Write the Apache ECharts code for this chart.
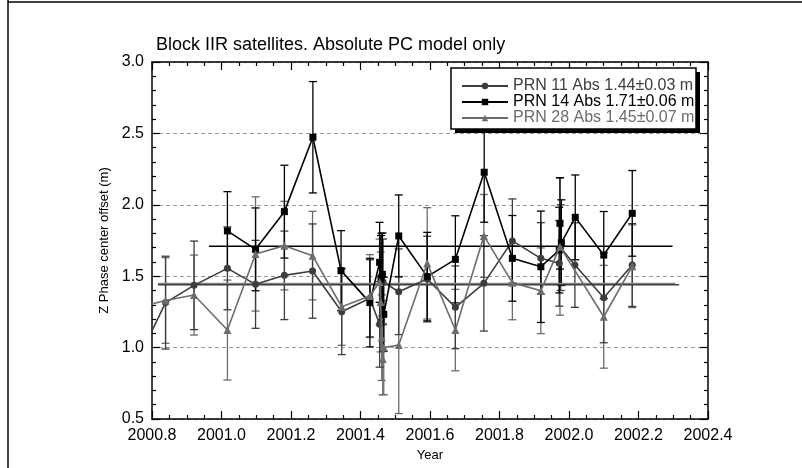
<!DOCTYPE html>
<html>
<head>
<meta charset="utf-8">
<script src="https://cdn.jsdelivr.net/npm/echarts@6/dist/echarts.min.js"></script>
<style>
html,body{margin:0;padding:0;background:#fff;}
#chart{width:802px;height:468px;}
</style>
</head>
<body>
<div id="chart"></div>
<script>
// ---- Data ----
const titleText = 'Block IIR satellites. Absolute PC model only';
const seriesNames = ['PRN 11 Abs 1.44\u00b10.03 m', 'PRN 14 Abs 1.71\u00b10.06 m', 'PRN 28 Abs 1.45\u00b10.07 m'];

const years11 = [2000.757, 2000.839, 2000.921, 2001.017, 2001.098, 2001.181, 2001.262, 2001.346, 2001.427, 2001.455, 2001.460, 2001.465, 2001.510, 2001.592, 2001.673, 2001.755, 2001.837, 2001.919, 2001.972, 2001.976, 2002.017, 2002.100, 2002.182];
const prn11   = [0.90, 1.315, 1.436, 1.555, 1.443, 1.506, 1.536, 1.251, 1.345, 1.163, 1.50, 1.46, 1.391, 1.48, 1.282, 1.45, 1.747, 1.625, 1.59, 1.70, 1.578, 1.349, 1.578];
const err11   = [0.30, 0.325, 0.31, 0.29, 0.308, 0.31, 0.33, 0.30, 0.27, 0.30, 0.30, 0.30, 0.30, 0.30, 0.29, 0.334, 0.294, 0.25, 0.30, 0.30, 0.296, 0.315, 0.29];

const years14 = [2001.017, 2001.098, 2001.181, 2001.263, 2001.344, 2001.427, 2001.455, 2001.459, 2001.463, 2001.467, 2001.510, 2001.592, 2001.673, 2001.756, 2001.837, 2001.919, 2001.972, 2001.974, 2001.978, 2002.018, 2002.100, 2002.182];
const prn14   = [1.817, 1.688, 1.952, 2.473, 1.539, 1.315, 1.597, 1.485, 1.513, 1.233, 1.782, 1.497, 1.618, 2.228, 1.625, 1.566, 1.683, 1.87, 1.735, 1.912, 1.648, 1.94];
const err14   = [0.275, 0.29, 0.325, 0.39, 0.28, 0.31, 0.28, 0.30, 0.29, 0.26, 0.287, 0.31, 0.305, 0.35, 0.30, 0.39, 0.30, 0.32, 0.30, 0.297, 0.305, 0.30];

const years28 = [2000.757, 2000.839, 2000.921, 2001.017, 2001.098, 2001.181, 2001.262, 2001.346, 2001.427, 2001.455, 2001.458, 2001.461, 2001.464, 2001.467, 2001.510, 2001.592, 2001.673, 2001.755, 2001.837, 2001.919, 2001.974, 2002.100, 2002.182];
const prn28   = [1.28, 1.33, 1.368, 1.123, 1.656, 1.714, 1.644, 1.286, 1.361, 1.46, 1.32, 1.07, 0.92, 1.00, 1.018, 1.59, 1.123, 1.782, 1.455, 1.398, 1.707, 1.216, 1.57];
const err28   = [0.30, 0.30, 0.28, 0.35, 0.40, 0.31, 0.31, 0.27, 0.29, 0.30, 0.35, 0.30, 0.25, 0.33, 0.48, 0.39, 0.285, 0.29, 0.26, 0.30, 0.48, 0.36, 0.29];

const meanValues = [1.44, 1.71, 1.45];
const meanStart  = [2000.817, 2000.964, 2000.817];
const meanEnd    = [2002.317, 2002.298, 2002.306];

const xTicks = ['2000.8','2001.0','2001.2','2001.4','2001.6','2001.8','2002.0','2002.2','2002.4'];
const yTicks = ['0.5','1.0','1.5','2.0','2.5','3.0'];

// ---- Styles ----
const FONT = '"Liberation Sans", Arial, Helvetica, sans-serif';
const colors = ['#3d3d3d', '#000000', '#6c6c6c'];
const meanColors = ['#3d3d3d', '#000000', '#858585'];
const symbols = ['circle', 'rect', 'triangle'];
const symbolSizes = [7, 7, 8];

const yearsAll = [years11, years14, years28];
const valsAll = [prn11, prn14, prn28];
const errsAll = [err11, err14, err28];

function errorSeries(idx) {
  return {
    type: 'custom',
    name: seriesNames[idx] + ' err',
    clip: true,
    silent: true,
    z: 2,
    data: yearsAll[idx].map((x, i) => [x, valsAll[idx][i], errsAll[idx][i]]),
    renderItem: function (params, api) {
      const x = api.value(0), y = api.value(1), e = api.value(2);
      const top = api.coord([x, y + e]);
      const bot = api.coord([x, y - e]);
      const cw = 4;
      const st = { stroke: colors[idx], lineWidth: 1.3 };
      return {
        type: 'group',
        children: [
          { type: 'line', shape: { x1: top[0], y1: top[1], x2: bot[0], y2: bot[1] }, style: st },
          { type: 'line', shape: { x1: top[0] - cw, y1: top[1], x2: top[0] + cw, y2: top[1] }, style: st },
          { type: 'line', shape: { x1: bot[0] - cw, y1: bot[1], x2: bot[0] + cw, y2: bot[1] }, style: st }
        ]
      };
    }
  };
}

function lineSeries(idx) {
  return {
    type: 'line',
    name: seriesNames[idx],
    data: yearsAll[idx].map((x, i) => [x, valsAll[idx][i]]),
    symbol: symbols[idx],
    symbolSize: symbolSizes[idx],
    clip: true,
    z: 3 + idx * 0.1,
    lineStyle: { color: colors[idx], width: 1.6 },
    itemStyle: { color: colors[idx] },
    emphasis: { disabled: true },
    animation: false
  };
}

function meanSeries(idx) {
  return {
    type: 'line',
    name: seriesNames[idx] + ' mean',
    data: [[meanStart[idx], meanValues[idx]], [meanEnd[idx], meanValues[idx]]],
    symbol: 'none',
    silent: true,
    z: 2,
    lineStyle: { color: meanColors[idx], width: 1.4 },
    animation: false
  };
}

const axisLineStyle = { show: true, onZero: false, lineStyle: { color: '#000', width: 1.5 } };
const axisTickStyle = { show: true, inside: true, length: 8, lineStyle: { color: '#000', width: 1.2 } };

const chart = echarts.init(document.getElementById('chart'), null, { renderer: 'canvas' });
chart.setOption({
  animation: false,
  backgroundColor: '#fff',
  title: {
    text: titleText,
    left: 151, top: 31,
    textStyle: { fontFamily: FONT, fontSize: 18, fontWeight: 'normal', color: '#000' }
  },
  grid: { left: 152, right: 94, top: 62, bottom: 49, containLabel: false },
  legend: {
    orient: 'vertical',
    left: 461, top: 78,
    itemWidth: 46, itemHeight: 8, itemGap: 0, padding: 0,
    selectedMode: false,
    textStyle: { fontFamily: FONT, fontSize: 16, lineHeight: 14.5 },
    data: seriesNames.map((n, i) => ({ name: n, textStyle: { color: colors[i] } }))
  },
  graphic: [
    { type: 'line', shape: { x1: 8, y1: 0, x2: 8, y2: 468 }, style: { stroke: '#000', lineWidth: 1.5 }, z: 1 },
    { type: 'line', shape: { x1: 8, y1: 2, x2: 802, y2: 2 }, style: { stroke: '#000', lineWidth: 1.5 }, z: 1 },
    { type: 'rect', shape: { x: 455, y: 72, width: 245, height: 61 }, style: { fill: '#000' }, z: 3.5 },
    { type: 'rect', shape: { x: 451, y: 68, width: 245, height: 61 }, style: { fill: '#fff', stroke: '#000', lineWidth: 1.5 }, z: 3.6 }
  ],
  xAxis: [
    {
      type: 'value', position: 'bottom', min: 2000.8, max: 2002.4, interval: 0.2,
      axisLine: axisLineStyle, axisTick: axisTickStyle,
      splitLine: { show: false },
      minorTick: { show: true, splitNumber: 4, length: 4, lineStyle: { color: '#000', width: 1.2 } },
      axisLabel: { fontFamily: FONT, fontSize: 16, color: '#000', margin: 9,
        formatter: v => xTicks[Math.round((v - 2000.8) / 0.2)] },
      name: 'Year', nameLocation: 'middle', nameGap: 23,
      nameTextStyle: { fontFamily: FONT, fontSize: 13, color: '#000' }
    },
    {
      type: 'value', position: 'top', min: 2000.8, max: 2002.4, interval: 0.2,
      axisLine: axisLineStyle, axisTick: axisTickStyle,
      splitLine: { show: false },
      minorTick: { show: true, splitNumber: 4, length: 4, lineStyle: { color: '#000', width: 1.2 } },
      axisLabel: { show: false }
    }
  ],
  yAxis: [
    {
      type: 'value', position: 'left', min: 0.5, max: 3.0, interval: 0.5,
      axisLine: axisLineStyle, axisTick: axisTickStyle,
      splitLine: { show: true, lineStyle: { color: '#9a9a9a', width: 1.2, type: [4, 3] } },
      minorTick: { show: true, splitNumber: 5, length: 4, lineStyle: { color: '#000', width: 1.2 } },
      axisLabel: { fontFamily: FONT, fontSize: 16, color: '#000', margin: 8,
        formatter: v => yTicks[Math.round((v - 0.5) / 0.5)] },
      name: 'Z Phase center offset (m)', nameLocation: 'middle', nameGap: 28,
      nameTextStyle: { fontFamily: FONT, fontSize: 13, color: '#000' }
    },
    {
      type: 'value', position: 'right', min: 0.5, max: 3.0, interval: 0.5,
      axisLine: axisLineStyle, axisTick: axisTickStyle,
      splitLine: { show: false },
      minorTick: { show: true, splitNumber: 5, length: 4, lineStyle: { color: '#000', width: 1.2 } },
      axisLabel: { show: false }
    }
  ],
  series: [
    errorSeries(2), errorSeries(0), errorSeries(1),
    meanSeries(0), meanSeries(2), meanSeries(1),
    lineSeries(2), lineSeries(0), lineSeries(1)
  ]
});
</script>
</body>
</html>
